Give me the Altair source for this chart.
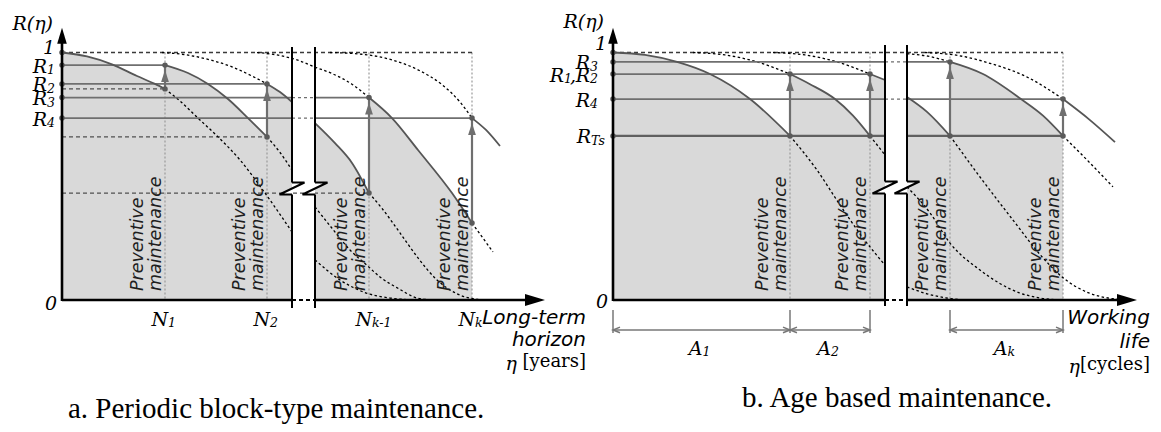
import altair as alt
import pandas as pd

# ---------------- horizontal position of eta = 0 in each panel ----------------
XA, XB = 62, 613

# ======================= panel a : periodic block-type =======================
A_PM = [103, 205, 307, 410]                 # N1, N2, N(k-1), Nk
A_BREAK = [230, 253]
A_AXIS_END = 483
A_R_TOP = [0.949, 0.873, 0.818, 0.735]      # R1 .. R4 (restored reliability)
A_R_LOW = [0.853, 0.659, 0.432, 0.311]      # reliability reached at each PM
A_SUB_R = ["1", "2", "3", "4"]
A_SUB_N = ["1", "2", "k-1", "k"]

A_C1_ETA = [0, 25, 50, 75, 93, 103]
A_C1_R = [1.0, 0.984, 0.952, 0.905, 0.873, 0.853]
A_C1_TAIL_ETA = [103, 118, 136, 156, 178, 203, 230]
A_C1_TAIL_R = [0.853, 0.804, 0.735, 0.659, 0.566, 0.432, 0.275]
A_C1_TAIL2_ETA = [253, 278, 303, 328, 355]
A_C1_TAIL2_R = [0.162, 0.081, 0.030, 0.008, 0.0]
A_C2_ETA = [103, 126, 146, 166, 186, 205]
A_C2_R = [0.949, 0.917, 0.873, 0.812, 0.735, 0.659]
A_C2_TAIL_ETA = [205, 218, 230]
A_C2_TAIL_R = [0.659, 0.596, 0.525]
A_C2_TAIL2_ETA = [253, 270, 288, 305, 318, 337, 355, 371]
A_C2_TAIL2_R = [0.376, 0.290, 0.202, 0.140, 0.093, 0.045, 0.008, 0.0]
A_C3_PRE_ETA = [100, 125, 150, 170, 190, 205]
A_C3_PRE_R = [1.0, 0.990, 0.968, 0.942, 0.905, 0.873]
A_C3_ETA = [205, 218, 230]
A_C3_R = [0.873, 0.840, 0.800]
A_CK_PRE_ETA = [195, 215, 235, 253, 270, 290, 307]
A_CK_PRE_R = [1.0, 0.990, 0.970, 0.941, 0.915, 0.872, 0.818]
A_CK1_ETA = [253, 273, 290, 307]
A_CK1_R = [0.715, 0.634, 0.554, 0.432]
A_CK1_TAIL_ETA = [307, 320, 338, 356, 375, 395, 420]
A_CK1_TAIL_R = [0.432, 0.370, 0.271, 0.170, 0.081, 0.025, 0.0]
A_CK_ETA = [307, 330, 356, 390, 410]
A_CK_R = [0.818, 0.735, 0.606, 0.432, 0.311]
A_CK_TAIL_ETA = [410, 431]
A_CK_TAIL_R = [0.311, 0.194]
A_CK2_PRE_ETA = [268, 300, 330, 356, 380, 398, 410]
A_CK2_PRE_R = [1.0, 0.993, 0.970, 0.930, 0.870, 0.800, 0.735]
A_CK2_ETA = [410, 424, 438]
A_CK2_R = [0.735, 0.687, 0.622]

# ========================= panel b : age based =========================
B_PM = [177, 257, 337, 450]
B_BREAK = [272, 294]
B_AXIS_END = 524
B_R_TOP = [0.913, 0.913, 0.962, 0.812]
B_R_TS = 0.663
B_AXIS_DOTS = [1.0, 0.962, 0.913, 0.812, 0.663]
B_SUB_A = ["1", "2", "k"]

B_C1_ETA = [0, 32, 64, 97, 137, 177]
B_C1_R = [1.0, 0.990, 0.962, 0.913, 0.812, 0.663]
B_C1_TAIL_ETA = [177, 204, 227, 250, 272]
B_C1_TAIL_R = [0.663, 0.525, 0.384, 0.251, 0.141]
B_C1_TAIL2_ETA = [294, 314, 334, 350]
B_C1_TAIL2_R = [0.053, 0.025, 0.008, 0.0]
B_C2_PRE_ETA = [80, 112, 144, 177]
B_C2_PRE_R = [1.0, 0.990, 0.962, 0.913]
B_C2_ETA = [177, 197, 222, 240, 257]
B_C2_R = [0.913, 0.872, 0.812, 0.745, 0.663]
B_C2_TAIL_ETA = [257, 272]
B_C2_TAIL_R = [0.663, 0.586]
B_C2_TAIL2_ETA = [294, 317, 337, 367, 407, 427, 445]
B_C2_TAIL2_R = [0.457, 0.352, 0.230, 0.121, 0.028, 0.008, 0.0]
B_C3_PRE_ETA = [160, 192, 224, 257]
B_C3_PRE_R = [1.0, 0.990, 0.962, 0.913]
B_C3_ETA = [257, 272]
B_C3_R = [0.913, 0.889]
B_CK1_ETA = [294, 314, 337]
B_CK1_R = [0.820, 0.760, 0.663]
B_CK1_TAIL_ETA = [337, 367, 400, 430, 450, 475, 500, 515]
B_CK1_TAIL_R = [0.663, 0.497, 0.323, 0.170, 0.090, 0.030, 0.005, 0.0]
B_CK_PRE_ETA = [294, 315, 337]
B_CK_PRE_R = [0.995, 0.985, 0.962]
B_CK_ETA = [337, 370, 408, 430, 450]
B_CK_R = [0.962, 0.913, 0.812, 0.745, 0.663]
B_CK_TAIL_ETA = [450, 474, 500]
B_CK_TAIL_R = [0.663, 0.566, 0.457]
B_CK2_PRE_ETA = [312, 345, 378, 412, 450]
B_CK2_PRE_R = [1.0, 0.988, 0.955, 0.905, 0.812]
B_CK2_ETA = [450, 477, 502]
B_CK2_R = [0.812, 0.727, 0.638]

# ---------------- scales (page is 8 px margin; R=1 and R=0 rows) ----------------
W, H = 1145, 416
xs = alt.Scale(domain=[8, 1153], nice=False, zero=False)
ys = alt.Scale(domain=[-0.50101, 1.17980], nice=False, zero=False)
X = alt.X("x:Q", scale=xs, axis=None)
Y = alt.Y("r:Q", scale=ys, axis=None)
Y_NS = alt.Y("r:Q", scale=ys, axis=None, stack=None)

FILL = "#d9d9d9"
SOLID = "#565656"
GRAY = "#6f6f6f"

# ---------------- curves ----------------
curves = [
    (XA, "solid", A_C1_ETA, A_C1_R), (XA, "dot", A_C1_TAIL_ETA, A_C1_TAIL_R),
    (XA, "dot", A_C1_TAIL2_ETA, A_C1_TAIL2_R),
    (XA, "solid", A_C2_ETA, A_C2_R), (XA, "dot", A_C2_TAIL_ETA, A_C2_TAIL_R),
    (XA, "dot", A_C2_TAIL2_ETA, A_C2_TAIL2_R),
    (XA, "dot", A_C3_PRE_ETA, A_C3_PRE_R), (XA, "solid", A_C3_ETA, A_C3_R),
    (XA, "dot", A_CK_PRE_ETA, A_CK_PRE_R),
    (XA, "solid", A_CK1_ETA, A_CK1_R), (XA, "dot", A_CK1_TAIL_ETA, A_CK1_TAIL_R),
    (XA, "solid", A_CK_ETA, A_CK_R), (XA, "dot", A_CK_TAIL_ETA, A_CK_TAIL_R),
    (XA, "dot", A_CK2_PRE_ETA, A_CK2_PRE_R), (XA, "solid", A_CK2_ETA, A_CK2_R),
    (XB, "solid", B_C1_ETA, B_C1_R), (XB, "dot", B_C1_TAIL_ETA, B_C1_TAIL_R),
    (XB, "dot", B_C1_TAIL2_ETA, B_C1_TAIL2_R),
    (XB, "dot", B_C2_PRE_ETA, B_C2_PRE_R), (XB, "solid", B_C2_ETA, B_C2_R),
    (XB, "dot", B_C2_TAIL_ETA, B_C2_TAIL_R), (XB, "dot", B_C2_TAIL2_ETA, B_C2_TAIL2_R),
    (XB, "dot", B_C3_PRE_ETA, B_C3_PRE_R), (XB, "solid", B_C3_ETA, B_C3_R),
    (XB, "solid", B_CK1_ETA, B_CK1_R), (XB, "dot", B_CK1_TAIL_ETA, B_CK1_TAIL_R),
    (XB, "dot", B_CK_PRE_ETA, B_CK_PRE_R), (XB, "solid", B_CK_ETA, B_CK_R),
    (XB, "dot", B_CK_TAIL_ETA, B_CK_TAIL_R),
    (XB, "dot", B_CK2_PRE_ETA, B_CK2_PRE_R), (XB, "solid", B_CK2_ETA, B_CK2_R),
]
crow = []
for k, (x0, kind, eta, rr) in enumerate(curves):
    for i, (e, v) in enumerate(zip(eta, rr)):
        crow.append({"x": x0 + e, "r": v, "seg": k, "i": i, "kind": kind})
dfc = pd.DataFrame(crow)
fill_cur = [c for c in curves if c[1] == "solid" and c[2] is not A_CK2_ETA and c[2] is not B_CK2_ETA]
frow = []
for k, (x0, kind, eta, rr) in enumerate(fill_cur):
    for i, (e, v) in enumerate(zip(eta, rr)):
        frow.append({"x": x0 + e, "r": v, "seg": k, "i": i})
dff = pd.DataFrame(frow)

# ---------------- straight segments ----------------
def H_(x0, e1, e2, r):
    return {"x": x0 + e1, "x2": x0 + e2, "r": r, "r2": r}


def V_(x0, e, r1, r2):
    return {"x": x0 + e, "x2": x0 + e, "r": r1, "r2": r2}


a1, a2 = A_BREAK
b1, b2 = B_BREAK
rlines = [H_(XA, 0, A_PM[0], A_R_TOP[0]), H_(XA, 0, A_PM[1], A_R_TOP[1]),
          H_(XA, 0, a1, A_R_TOP[2]), H_(XA, a2, A_PM[2], A_R_TOP[2]),
          H_(XA, 0, a1, A_R_TOP[3]), H_(XA, a2, A_PM[3], A_R_TOP[3]),
          H_(XB, 0, b1, 0.962), H_(XB, b2, B_PM[2], 0.962),
          H_(XB, 0, B_PM[1], 0.913),
          H_(XB, 0, b1, 0.812), H_(XB, b2, B_PM[3], 0.812)]
ts_lines = [H_(XB, 0, b1, B_R_TS), H_(XB, b2, B_PM[3], B_R_TS)]
gap_lines = [H_(XA, a1, a2, A_R_TOP[2]), H_(XA, a1, a2, A_R_TOP[3]),
             H_(XB, b1, b2, 0.962), H_(XB, b1, b2, 0.812)]
level_lines = [H_(XA, 0, A_PM[0], A_R_LOW[0]), H_(XA, 0, A_PM[1], A_R_LOW[1]),
               H_(XA, 0, A_PM[2], A_R_LOW[2])]
top_lines = [H_(XA, 0, A_PM[3], 1.0), H_(XB, 0, B_PM[3], 1.0)]
vdots = [V_(XA, p, 1.0, 0.0) for p in A_PM] + [V_(XB, p, 1.0, 0.0) for p in B_PM]
arrows = [V_(XA, p, lo, hi) for p, lo, hi in zip(A_PM, A_R_LOW, A_R_TOP)] + \
         [V_(XB, p, B_R_TS, hi) for p, hi in zip(B_PM, B_R_TOP)]
axes = [V_(XA, 0, -0.004, 1.06), V_(XB, 0, -0.004, 1.06),
        H_(XA, 0, a1, 0.0), H_(XA, a2, A_AXIS_END - 12, 0.0),
        H_(XB, 0, b1, 0.0), H_(XB, b2, B_AXIS_END - 12, 0.0)]
axis_gaps = [H_(XA, a1, a2, 0.0), H_(XB, b1, b2, 0.0)]
ZA, ZB, ZH = 0.4505, 0.4545, 0.0245
breaks = []
for x0, b, zc, top, bot in [(XA, a1, ZA, 1.022, -0.032), (XA, a2, ZA, 1.022, -0.032),
                            (XB, b1, ZB, 1.03, -0.024), (XB, b2, ZB, 1.03, -0.024)]:
    breaks += [V_(x0, b, top, zc + ZH), V_(x0, b, zc - ZH, bot)]
zigs = pd.DataFrame([{"x": XA + a1, "r": ZA}, {"x": XA + a2, "r": ZA},
                     {"x": XB + b1, "r": ZB}, {"x": XB + b2, "r": ZB}])
DIM_TICKS = [0, 177, 257, 337, 450]
DIM_SPANS = [(0, 177), (177, 257), (337, 450)]
dims = [V_(XB, e, -0.040, -0.133) for e in DIM_TICKS] + \
       [H_(XB, s, t, -0.121) for s, t in DIM_SPANS]


def rules(rows, **kw):
    return alt.Chart(pd.DataFrame(rows)).mark_rule(**kw).encode(
        x=X, x2="x2:Q", y=Y, y2="r2:Q")


# ---------------- points ----------------
dots = [{"x": XA, "r": v} for v in [1.0] + A_R_TOP] + \
       [{"x": XB, "r": v} for v in B_AXIS_DOTS] + \
       [{"x": XA + p, "r": v} for p, lo, hi in zip(A_PM, A_R_LOW, A_R_TOP) for v in (lo, hi)] + \
       [{"x": XB + p, "r": v} for p, hi in zip(B_PM, B_R_TOP) for v in (B_R_TS, hi)]
heads = [{"x": XA + p, "r": hi} for p, hi in zip(A_PM, A_R_TOP)] + \
        [{"x": XB + p, "r": hi} for p, hi in zip(B_PM, B_R_TOP)]
yheads = [{"x": XA, "r": 1.1}, {"x": XB, "r": 1.1}]
xheads = [{"x": XA + A_AXIS_END, "r": 0.0}, {"x": XB + B_AXIS_END, "r": 0.0}]
chev_l = [{"x": XB + s, "r": -0.121} for s, t in DIM_SPANS]
chev_r = [{"x": XB + t, "r": -0.121} for s, t in DIM_SPANS]


def pts(rows, **kw):
    return alt.Chart(pd.DataFrame(rows)).mark_point(**kw).encode(x=X, y=Y)


# ---------------- texts ----------------
def txt(rows, **kw):
    kw.setdefault("baseline", "middle")
    kw.setdefault("color", "black")
    return alt.Chart(pd.DataFrame(rows, columns=["text", "x", "r"])).mark_text(**kw).encode(
        x=X, y=Y, text="text:N")


SERIF_M = "DejaVu Serif"
SANS_I = "DejaVu Sans"
math_right = [("R(η)", 53, 1.123), ("1", 55, 1.024), ("0", 57, -0.012),
              ("R(η)", 604, 1.131), ("1", 607, 1.042), ("0", 608, -0.004)]
math_right += [("R", 47, v) for v in A_R_TOP]
math_right += [("N", XA + p + 3, -0.073) for p in A_PM]
math_right += [("R", 590, 0.962), ("R", 564, 0.913), ("R", 590, 0.913),
               ("R", 590, 0.812), ("R", 591, B_R_TS)]
math_right += [("A", XB + (s + t) / 2 + 1, -0.190) for s, t in DIM_SPANS]
math_right += [("η", 517, -0.251), ("η", 1080, -0.263)]
math_left = [(",", 570, 0.913)]
subs = [(s, 47, v) for s, v in zip(A_SUB_R, A_R_TOP)]
subs += [(s, XA + p + 3, -0.073) for s, p in zip(A_SUB_N, A_PM)]
subs += [("3", 590, 0.962), ("1", 564, 0.913), ("2", 590, 0.913), ("4", 590, 0.812),
         ("Ts", 591, B_R_TS)]
subs += [(s, XB + (a + b) / 2 + 1, -0.190) for s, (a, b) in zip(B_SUB_A, DIM_SPANS)]
pm_txt = []
for x0, pms in [(XA, A_PM), (XB, B_PM)]:
    for p in pms:
        pm_txt += [("Preventive", x0 + p - 27, 0.036), ("maintenance", x0 + p - 9, 0.036)]
ax_titles = [("Long-term", 586, -0.073), ("horizon", 586, -0.162),
             ("Working", 1150, -0.073), ("life", 1150, -0.170)]
units = [("[years]", 586, -0.251), ("[cycles]", 1150, -0.263)]
captions = [("a. Periodic block-type maintenance.", 68, -0.440),
            ("b. Age based maintenance.", 742, -0.396)]

layers = [
    alt.Chart(dff).mark_area(color=FILL, interpolate="monotone").encode(
        x=X, y=Y_NS, detail="seg:N"),
    rules(vdots, color="#9a9a9a", strokeWidth=1.2, strokeDash=[2, 2]),
    rules(level_lines, color="#505050", strokeWidth=1.2, strokeDash=[4, 3]),
    rules(top_lines, color="#3a3a3a", strokeWidth=1.6, strokeDash=[4, 3]),
    alt.Chart(dfc[dfc.kind == "dot"]).mark_line(
        color="black", strokeWidth=1.3, strokeDash=[2.5, 2.5], interpolate="monotone").encode(
        x=X, y=Y, detail="seg:N", order="i:Q"),
    rules(rlines, color=GRAY, strokeWidth=1.8),
    rules(ts_lines, color="#606060", strokeWidth=2.2),
    rules(gap_lines, color=GRAY, strokeWidth=1.3, strokeDash=[3, 3]),
    alt.Chart(dfc[dfc.kind == "solid"]).mark_line(
        color=SOLID, strokeWidth=1.8, interpolate="monotone").encode(
        x=X, y=Y, detail="seg:N", order="i:Q"),
    rules(arrows, color=GRAY, strokeWidth=2.2),
    pts(heads, shape="M0,-1L0.65,1L-0.65,1Z", size=144, filled=True, color=GRAY,
        opacity=1, yOffset=11),
    pts(dots, shape="circle", size=30, filled=True, color="#5a5a5a", opacity=1),
    rules(axes, color="black", strokeWidth=2.6),
    rules(axis_gaps, color="black", strokeWidth=2.2, strokeDash=[4, 3]),
    rules(breaks, color="black", strokeWidth=2),
    alt.Chart(zigs).mark_point(shape="M0,-0.48L1,-0.48L-1,0.48L0,0.48", size=625,
                               filled=False, fill="white", fillOpacity=1, stroke="black",
                               strokeWidth=2, opacity=1, strokeJoin="miter").encode(x=X, y=Y),
    pts(yheads, shape="M0,-1L0.6,1L-0.6,1Z", size=256, filled=True, color="black",
        opacity=1, yOffset=8),
    pts(xheads, shape="M1,0L-1,-0.6L-1,0.6Z", size=400, filled=True, color="black",
        opacity=1, xOffset=-10),
    rules(dims, color="#777777", strokeWidth=1.5),
    pts(chev_l, shape="M1,-0.8L-1,0L1,0.8", size=49, filled=False, color="#777777",
        strokeWidth=1.5, opacity=1, xOffset=3.5),
    pts(chev_r, shape="M-1,-0.8L1,0L-1,0.8", size=49, filled=False, color="#777777",
        strokeWidth=1.5, opacity=1, xOffset=-3.5),
    txt(math_right, align="right", font=SERIF_M, fontStyle="italic", fontSize=19, dy=1.5),
    txt(math_left, align="left", font=SERIF_M, fontStyle="italic", fontSize=19, dy=1.5),
    txt(subs, align="left", font=SERIF_M, fontStyle="italic", fontSize=12.5, dy=5),
    txt(pm_txt, align="left", font=SANS_I, fontStyle="italic", fontSize=17.5,
        angle=270, color="#1e1e1e"),
    txt(ax_titles, align="right", font=SANS_I, fontStyle="italic", fontSize=20),
    txt(units, align="right", font=SERIF_M, fontSize=18),
    txt(captions, align="left", font="Liberation Serif", fontSize=29),
]

chart = alt.layer(*layers).properties(
    width=W, height=H, padding=0, autosize=alt.AutoSizeParams(type="none"),
    background="white"
).configure_view(stroke=None)

chart.save("out.html", embed_options={"renderer": "svg", "actions": False})
